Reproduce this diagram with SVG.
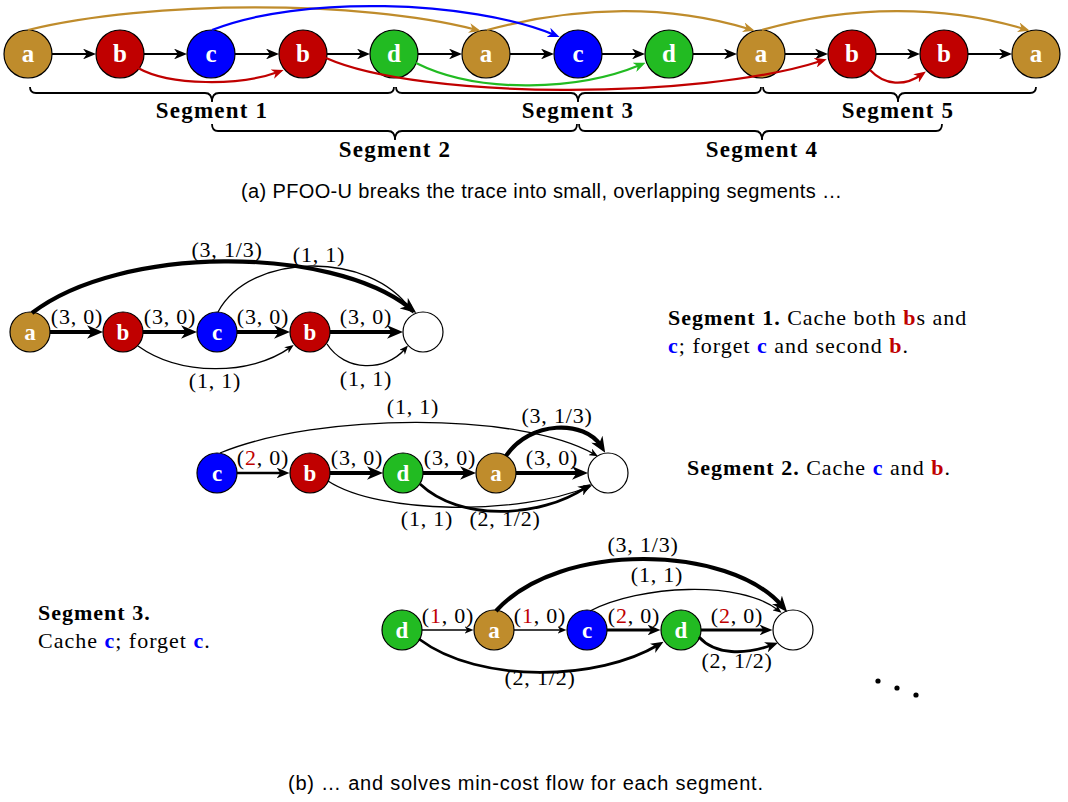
<svg xmlns="http://www.w3.org/2000/svg" width="1068" height="802" viewBox="0 0 1068 802">
<style>
.nd circle{stroke:#000;stroke-width:1.2}
.nd text{font-family:"Liberation Serif",serif;font-weight:bold;fill:#fff;text-anchor:middle}
.top text{font-size:25px}
.bot text{font-size:23px}
.ga{fill:#BF8C2C}.rb{fill:#C00000}.bc{fill:#0000FF}.gd{fill:#22BB22}.em{fill:#fff}
.e{fill:none;stroke:#000}
.w1{stroke-width:2}.wt{stroke-width:1.3}.wm{stroke-width:2.8}.wk{stroke-width:4.2}
.el{font-family:"Liberation Serif",serif;font-size:22px;letter-spacing:0.8px;text-anchor:middle;fill:#000}
.r{fill:#C00000}
.seg{font-family:"Liberation Serif",serif;font-size:23px;font-weight:bold;letter-spacing:1.2px;text-anchor:middle}
.br{fill:none;stroke:#000;stroke-width:1.8}
.tx{font-family:"Liberation Serif",serif;font-size:22px;letter-spacing:1px}
.b{font-weight:bold}
.cap{font-family:"Liberation Sans",sans-serif;font-size:20px}
</style>
<defs>
<marker id="aK" viewBox="0 0 12 10" refX="6" refY="5" markerWidth="13" markerHeight="10.8" markerUnits="userSpaceOnUse" orient="auto"><path d="M0,0 L12,5 L0,10 L3.5,5 z" fill="#000"/></marker>
<marker id="aT" viewBox="0 0 12 10" refX="6" refY="5" markerWidth="9" markerHeight="7.5" markerUnits="userSpaceOnUse" orient="auto"><path d="M0,0 L12,5 L0,10 L3.5,5 z" fill="#000"/></marker>
<marker id="aM" viewBox="0 0 12 10" refX="6" refY="5" markerWidth="13" markerHeight="10.8" markerUnits="userSpaceOnUse" orient="auto"><path d="M0,0 L12,5 L0,10 L3.5,5 z" fill="#000"/></marker>
<marker id="aL" viewBox="0 0 12 10" refX="6" refY="5" markerWidth="16" markerHeight="13.3" markerUnits="userSpaceOnUse" orient="auto"><path d="M0,0 L12,5 L0,10 L3.5,5 z" fill="#000"/></marker>
<marker id="aG" viewBox="0 0 12 10" refX="6" refY="5" markerWidth="12" markerHeight="10" markerUnits="userSpaceOnUse" orient="auto"><path d="M0,0 L12,5 L0,10 L3.5,5 z" fill="#BF8C2C"/></marker>
<marker id="aB" viewBox="0 0 12 10" refX="6" refY="5" markerWidth="12" markerHeight="10" markerUnits="userSpaceOnUse" orient="auto"><path d="M0,0 L12,5 L0,10 L3.5,5 z" fill="#0000FF"/></marker>
<marker id="aR" viewBox="0 0 12 10" refX="6" refY="5" markerWidth="12" markerHeight="10" markerUnits="userSpaceOnUse" orient="auto"><path d="M0,0 L12,5 L0,10 L3.5,5 z" fill="#C00000"/></marker>
<marker id="aD" viewBox="0 0 12 10" refX="6" refY="5" markerWidth="12" markerHeight="10" markerUnits="userSpaceOnUse" orient="auto"><path d="M0,0 L12,5 L0,10 L3.5,5 z" fill="#22BB22"/></marker>
</defs>

<!-- (a) trace nodes -->
<g id="t0" class="nd top"><circle class="ga" cx="28" cy="54" r="24"/><text x="28" y="62">a</text></g>
<g id="t1" class="nd top"><circle class="rb" cx="120" cy="54" r="24"/><text x="120" y="62">b</text></g>
<g id="t2" class="nd top"><circle class="bc" cx="211" cy="54" r="24"/><text x="211" y="62">c</text></g>
<g id="t3" class="nd top"><circle class="rb" cx="303" cy="54" r="24"/><text x="303" y="62">b</text></g>
<g id="t4" class="nd top"><circle class="gd" cx="394" cy="54" r="24"/><text x="394" y="62">d</text></g>
<g id="t5" class="nd top"><circle class="ga" cx="486" cy="54" r="24"/><text x="486" y="62">a</text></g>
<g id="t6" class="nd top"><circle class="bc" cx="578" cy="54" r="24"/><text x="578" y="62">c</text></g>
<g id="t7" class="nd top"><circle class="gd" cx="669" cy="54" r="24"/><text x="669" y="62">d</text></g>
<g id="t8" class="nd top"><circle class="ga" cx="761" cy="54" r="24"/><text x="761" y="62">a</text></g>
<g id="t9" class="nd top"><circle class="rb" cx="852" cy="54" r="24"/><text x="852" y="62">b</text></g>
<g id="t10" class="nd top"><circle class="rb" cx="944" cy="54" r="24"/><text x="944" y="62">b</text></g>
<g id="t11" class="nd top"><circle class="ga" cx="1036" cy="54" r="24"/><text x="1036" y="62">a</text></g>

<!-- (b) segment 1 nodes -->
<g id="s1a" class="nd bot"><circle class="ga" cx="30" cy="332" r="20"/><text x="30" y="340">a</text></g>
<g id="s1b" class="nd bot"><circle class="rb" cx="123" cy="332" r="20"/><text x="123" y="340">b</text></g>
<g id="s1c" class="nd bot"><circle class="bc" cx="217" cy="332" r="20"/><text x="217" y="340">c</text></g>
<g id="s1b2" class="nd bot"><circle class="rb" cx="310" cy="332" r="20"/><text x="310" y="340">b</text></g>
<g id="s1t" class="nd bot"><circle class="em" cx="423" cy="332" r="20"/></g>

<!-- segment 2 nodes -->
<g id="s2c" class="nd bot"><circle class="bc" cx="217" cy="473" r="20"/><text x="217" y="481">c</text></g>
<g id="s2b" class="nd bot"><circle class="rb" cx="310" cy="473" r="20"/><text x="310" y="481">b</text></g>
<g id="s2d" class="nd bot"><circle class="gd" cx="403" cy="473" r="20"/><text x="403" y="481">d</text></g>
<g id="s2a" class="nd bot"><circle class="ga" cx="496" cy="473" r="20"/><text x="496" y="481">a</text></g>
<g id="s2t" class="nd bot"><circle class="em" cx="608" cy="473" r="20"/></g>

<!-- segment 3 nodes -->
<g id="s3d" class="nd bot"><circle class="gd" cx="402" cy="630" r="20"/><text x="402" y="638">d</text></g>
<g id="s3a" class="nd bot"><circle class="ga" cx="494" cy="630" r="20"/><text x="494" y="638">a</text></g>
<g id="s3c" class="nd bot"><circle class="bc" cx="587" cy="630" r="20"/><text x="587" y="638">c</text></g>
<g id="s3d2" class="nd bot"><circle class="gd" cx="681" cy="630" r="20"/><text x="681" y="638">d</text></g>
<g id="s3t" class="nd bot"><circle class="em" cx="793" cy="630" r="20"/></g>

<g id="connectors">
<!-- trace straight arrows -->
<g class="e w1" marker-end="url(#aK)">
<path d="M52,54 H89.5"/><path d="M144,54 H180.5"/><path d="M235,54 H272.5"/><path d="M327,54 H363.5"/>
<path d="M418,54 H455.5"/><path d="M510,54 H547.5"/><path d="M602,54 H638.5"/><path d="M693,54 H730.5"/>
<path d="M785,54 H821.5"/><path d="M876,54 H913.5"/><path d="M968,54 H1005.5"/>
</g>
<!-- trace reuse arcs -->
<path d="M28,30 C150,0 360,0 475,29.5" fill="none" stroke="#BF8C2C" stroke-width="2.2" marker-end="url(#aG)"/>
<path d="M487,30 C580,5 670,5 749,29" fill="none" stroke="#BF8C2C" stroke-width="2.2" marker-end="url(#aG)"/>
<path d="M762,30 C850,5 945,5 1024,29" fill="none" stroke="#BF8C2C" stroke-width="2.2" marker-end="url(#aG)"/>
<path d="M212,30 C300,-5 470,0 554,34.7" fill="none" stroke="#0000FF" stroke-width="2.2" marker-end="url(#aB)"/>
<path d="M138,68 C170,86 240,86 278,72" fill="none" stroke="#C00000" stroke-width="2.2" marker-end="url(#aR)"/>
<path d="M326,58 C420,100 700,100 821,61" fill="none" stroke="#C00000" stroke-width="2.2" marker-end="url(#aR)"/>
<path d="M416,63 C480,95 580,90 640,65" fill="none" stroke="#22BB22" stroke-width="2.2" marker-end="url(#aD)"/>
<path d="M870,70 C885,86 905,86 921,75" fill="none" stroke="#C00000" stroke-width="2.2" marker-end="url(#aR)"/>

<!-- segment 1 edges -->
<g class="e wk" marker-end="url(#aL)">
<path d="M50,332 H95"/><path d="M143,332 H189"/><path d="M237,332 H282"/><path d="M330,332 H395"/>
<path d="M32,313 C120,245 330,245 410,308"/>
</g>
<g class="e wt" marker-end="url(#aT)">
<path d="M218,312 C250,252 370,250 411,310"/>
<path d="M138,346 C180,376 250,376 290,347.6"/>
<path d="M327,344 C345,372 385,372 405,349"/>
</g>

<!-- segment 2 edges -->
<path class="e" stroke-width="2.5" d="M237,473 H283" marker-end="url(#aM)"/>
<g class="e wk" marker-end="url(#aL)">
<path d="M330,473 H375"/><path d="M423,473 H468"/><path d="M516,473 H580"/>
<path d="M506,456 C530,420 585,420 601,446"/>
</g>
<g class="e wt" marker-end="url(#aT)">
<path d="M220,453 C320,412 520,412 594,454"/>
<path d="M328,481 C380,515 520,515 588,487"/>
</g>
<path class="e wm" d="M420,484 C460,522 540,518 585.6,487.6" marker-end="url(#aM)"/>

<!-- segment 3 edges -->
<g class="e wt" marker-end="url(#aT)">
<path d="M422,630 H469"/><path d="M514,630 H562"/>
<path d="M590,611 C640,585 740,580 778,610"/>
</g>
<g class="e wm" marker-end="url(#aM)">
<path d="M607,630 H654"/><path d="M701,630 H766"/>
<path d="M419,639 C480,685 600,680 658,645"/>
<path d="M699,637 C715,655 745,655 772,645"/>
</g>
<path class="e wk" d="M496,611 C560,540 730,545 782,606" marker-end="url(#aL)"/>
</g>

<!-- braces -->
<g id="braces">
<path class="br" d="M30,87 Q30,93 36,93 H205 Q212,93 212,102 Q212,93 219,93 H388 Q394,93 394,87"/>
<path class="br" d="M396,87 Q396,93 402,93 H571 Q578,93 578,102 Q578,93 585,93 H755 Q761,93 761,87"/>
<path class="br" d="M763,87 Q763,93 769,93 H891 Q898,93 898,102 Q898,93 905,93 H1030 Q1036,93 1036,87"/>
<path class="br" d="M212,124 Q212,131 218,131 H388 Q395,131 395,140 Q395,131 402,131 H571 Q577,131 577,124"/>
<path class="br" d="M579,124 Q579,131 585,131 H755 Q762,131 762,140 Q762,131 769,131 H936 Q942,131 942,124"/>
</g>
<g id="seglabels">
<text class="seg" x="212" y="118">Segment 1</text>
<text class="seg" x="578" y="118">Segment 3</text>
<text class="seg" x="898" y="118">Segment 5</text>
<text class="seg" x="395" y="157">Segment 2</text>
<text class="seg" x="762" y="157">Segment 4</text>
</g>

<text class="cap" x="241" y="198" textLength="601" lengthAdjust="spacing">(a) PFOO-U breaks the trace into small, overlapping segments …</text>

<!-- edge labels -->
<g id="edgelabels">
<text class="el" x="77" y="324">(3, 0)</text>
<text class="el" x="170" y="324">(3, 0)</text>
<text class="el" x="263" y="324">(3, 0)</text>
<text class="el" x="366" y="324">(3, 0)</text>
<text class="el" x="227" y="257">(3, 1/3)</text>
<text class="el" x="319" y="262">(1, 1)</text>
<text class="el" x="215" y="388">(1, 1)</text>
<text class="el" x="366" y="386">(1, 1)</text>

<text class="el" x="263" y="465">(<tspan class="r">2</tspan>, 0)</text>
<text class="el" x="357" y="465">(3, 0)</text>
<text class="el" x="450" y="465">(3, 0)</text>
<text class="el" x="552" y="465">(3, 0)</text>
<text class="el" x="413" y="414">(1, 1)</text>
<text class="el" x="557" y="423">(3, 1/3)</text>
<text class="el" x="427" y="526">(1, 1)</text>
<text class="el" x="505" y="526">(2, 1/2)</text>

<text class="el" x="448" y="623">(<tspan class="r">1</tspan>, 0)</text>
<text class="el" x="540" y="623">(<tspan class="r">1</tspan>, 0)</text>
<text class="el" x="634" y="623">(<tspan class="r">2</tspan>, 0)</text>
<text class="el" x="737" y="623">(<tspan class="r">2</tspan>, 0)</text>
<text class="el" x="643" y="552">(3, 1/3)</text>
<text class="el" x="657" y="582">(1, 1)</text>
<text class="el" x="540" y="685">(2, 1/2)</text>
<text class="el" x="737" y="668">(2, 1/2)</text>
</g>

<!-- descriptions -->
<g id="desc">
<text class="tx" x="668" y="325"><tspan class="b">Segment 1.</tspan> Cache both <tspan class="b r">b</tspan>s and</text>
<text class="tx" x="668" y="353"><tspan class="b" fill="#0000FF">c</tspan>; forget <tspan class="b" fill="#0000FF">c</tspan> and second <tspan class="b r">b</tspan>.</text>
<text class="tx" x="687" y="475"><tspan class="b">Segment 2.</tspan> Cache <tspan class="b" fill="#0000FF">c</tspan> and <tspan class="b r">b</tspan>.</text>
<text class="tx" x="38" y="620"><tspan class="b">Segment 3.</tspan></text>
<text class="tx" x="38" y="648">Cache <tspan class="b" fill="#0000FF">c</tspan>; forget <tspan class="b" fill="#0000FF">c</tspan>.</text>
</g>

<g id="dots" fill="#000">
<circle cx="878" cy="681" r="2.6"/><circle cx="897" cy="688" r="2.6"/><circle cx="916" cy="695" r="2.6"/>
</g>

<text class="cap" x="288" y="790" textLength="475" lengthAdjust="spacing">(b) … and solves min-cost flow for each segment.</text>
</svg>
